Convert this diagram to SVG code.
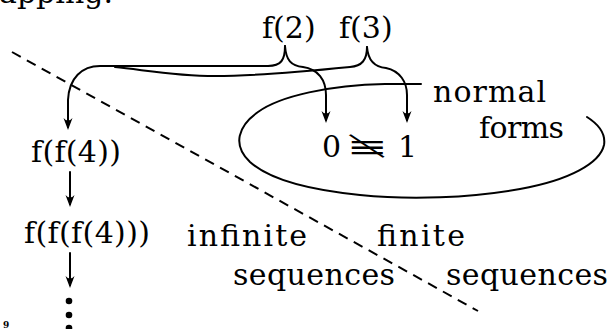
<svg xmlns="http://www.w3.org/2000/svg" width="610" height="329" viewBox="0 0 610 329">
<style>
text{font-family:'DejaVu Serif','Liberation Serif',serif;font-size:30px;fill:#000}
.ln{fill:none;stroke:#000;stroke-width:2;stroke-linecap:round;stroke-linejoin:round}
.arr{marker-end:url(#ah)}
.dash{fill:none;stroke:#000;stroke-width:2;stroke-dasharray:10 7}
</style>
<defs>
<marker id="ah" viewBox="-13 -5 14 10" refX="-3" refY="0" markerWidth="14" markerHeight="10" markerUnits="userSpaceOnUse" orient="auto">
<path d="M0,0 L-12,-4.5 Q-7,0 -12,4.5 Z" fill="#000"/>
</marker>
</defs>
<rect width="610" height="329" fill="#fff"/>
<g id="caption"><text x="-1" y="3">apping.</text><text x="3" y="328" style="font-size:9px;font-weight:bold">9</text></g>
<g id="partition"><path class="dash" d="M12,52 L478,311"/></g>
<g id="normal-forms-region"><path class="ln" d="M421,84 L385,84 C330,85 280,96 258,112 C238,126 232,145 250,162 C270,180 310,190 360,195 C410,200 470,198 520,189 C570,180 600,163 604,145 C606,133 598,124 587,117"/></g>
<g id="connectors">
<path class="ln arr" d="M285,46 C285,60 281,66 268,66 L100,66 C82,66 69,78 68,100 L68,127"/>
<path class="ln arr" d="M285,46 C286,60 291,66 303,67 C318,69 326,80 326,95 L326,120"/>
<path class="ln" d="M367,47 C367,60 362,66 350,67 C320,70 260,76 215,76 C175,76 145,70 115,67"/>
<path class="ln arr" d="M367,47 C368,60 374,67 386,68 C400,71 407,82 407,95 L407,120"/>
<path class="ln arr" d="M70,172 L70,204"/>
<path class="ln arr" d="M70,253 L70,285"/>
</g>
<g id="f2"><text x="262" y="38">f(2)</text></g>
<g id="f3"><text x="339" y="38">f(3)</text></g>
<g id="normal-forms-label"><text x="433" y="102" textLength="113">normal</text><text x="479" y="138" textLength="85">forms</text></g>
<g id="zero-one"><text x="322" y="157">0</text><text transform="translate(388,157) scale(-1.65,1)">≢</text><text x="398" y="157">1</text></g>
<g id="ff4"><text x="31" y="162" textLength="90">f(f(4))</text></g>
<g id="fff4"><text x="24" y="243" textLength="126">f(f(f(4)))</text></g>
<g id="dots"><circle cx="69" cy="301" r="3.3"/><circle cx="69" cy="315" r="3.3"/><circle cx="69" cy="328" r="3.3"/></g>
<g id="infinite-label"><text x="187" y="246" textLength="120">infinite</text><text x="233" y="285" textLength="162">sequences</text></g>
<g id="finite-label"><text x="377" y="246" textLength="88">finite</text><text x="446" y="285" textLength="162">sequences</text></g>
</svg>
